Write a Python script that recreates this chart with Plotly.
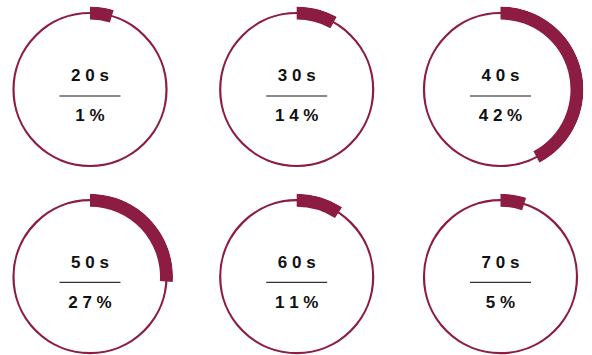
import plotly.graph_objects as go

# Data
age_labels = ["2 0 s", "3 0 s", "4 0 s", "5 0 s", "6 0 s", "7 0 s"]
pct_labels = ["1 %", "1 4 %", "4 2 %", "2 7 %", "1 1 %", "5 %"]
# arc share (percent of full circle) as drawn in the picture
arc_share = [4.6, 8.0, 42.2, 26.0, 9.2, 5.0]

W, H = 592, 355
MAROON = "#8C1C42"
col_cx = [90, 296.7, 500.5]
row_cy = [89.5, 276.7]
R = 76.5          # thin circle radius in px
RB = 83           # outer radius of thick band in px
BAND_IN = 70

fig = go.Figure()
layout_extra = {}
shapes = []
n = 0


def new_name():
    global n
    n += 1
    return "polar" if n == 1 else f"polar{n}"


for i in range(6):
    r_i, c_i = divmod(i, 3)
    cx, cy = col_cx[c_i], row_cy[r_i]

    # thin full circle + labels
    ring = new_name()
    fig.add_trace(go.Scatterpolar(
        r=[12.5, 27], theta=[0, 180], mode="text",
        text=[age_labels[i], pct_labels[i]],
        textposition="middle center",
        textfont=dict(family="Liberation Sans", size=17, color="#111111",
                      weight="bold"),
        cliponaxis=False, subplot=ring, hoverinfo="skip", showlegend=False))
    layout_extra[ring] = dict(
        domain=dict(x=[(cx - R) / W, (cx + R) / W],
                    y=[1 - (cy + R) / H, 1 - (cy - R) / H]),
        bgcolor="rgba(0,0,0,0)",
        radialaxis=dict(range=[0, R], visible=False),
        angularaxis=dict(rotation=90, direction="clockwise", showgrid=False,
                         showticklabels=False, ticks="", showline=True,
                         linecolor=MAROON, linewidth=2.2),
    )

    # thick arc
    band = new_name()
    deg = arc_share[i] * 3.6
    fig.add_trace(go.Barpolar(
        r=[RB - BAND_IN], base=[BAND_IN], theta=[deg / 2], width=[deg],
        marker=dict(color=MAROON, line=dict(width=0)),
        subplot=band, hoverinfo="skip", showlegend=False))
    if r_i == 0:
        sector = [0, 360]
        y_lo, y_hi = cy + RB, cy - RB
    else:
        sector = [-30, 210]
        y_lo, y_hi = cy + 0.5 * RB, cy - RB
    layout_extra[band] = dict(
        domain=dict(x=[(cx - RB) / W, (cx + RB) / W],
                    y=[1 - y_lo / H, 1 - y_hi / H]),
        sector=sector,
        bgcolor="rgba(0,0,0,0)",
        radialaxis=dict(range=[0, RB], visible=False),
        angularaxis=dict(rotation=90, direction="clockwise", showgrid=False,
                         showticklabels=False, ticks="", showline=False),
    )

    ly = cy + (6.5 if r_i == 0 else 5.7)
    shapes.append(dict(type="line", xref="paper", yref="paper",
                       x0=(cx - 30.5) / W, x1=(cx + 30.5) / W,
                       y0=1 - ly / H, y1=1 - ly / H,
                       line=dict(color="#8a8a8a" if r_i == 0 else "#333333",
                                 width=2 if r_i == 0 else 1.2)))

fig.update_layout(
    width=W, height=H, margin=dict(l=0, r=0, t=0, b=0),
    paper_bgcolor="white", plot_bgcolor="white",
    shapes=shapes, hovermode=False, showlegend=False,
    font=dict(family="Liberation Sans"),
    **layout_extra,
)
fig.write_html("out.html", config={"displayModeBar": False},
               post_script="document.body.style.margin='0';")
